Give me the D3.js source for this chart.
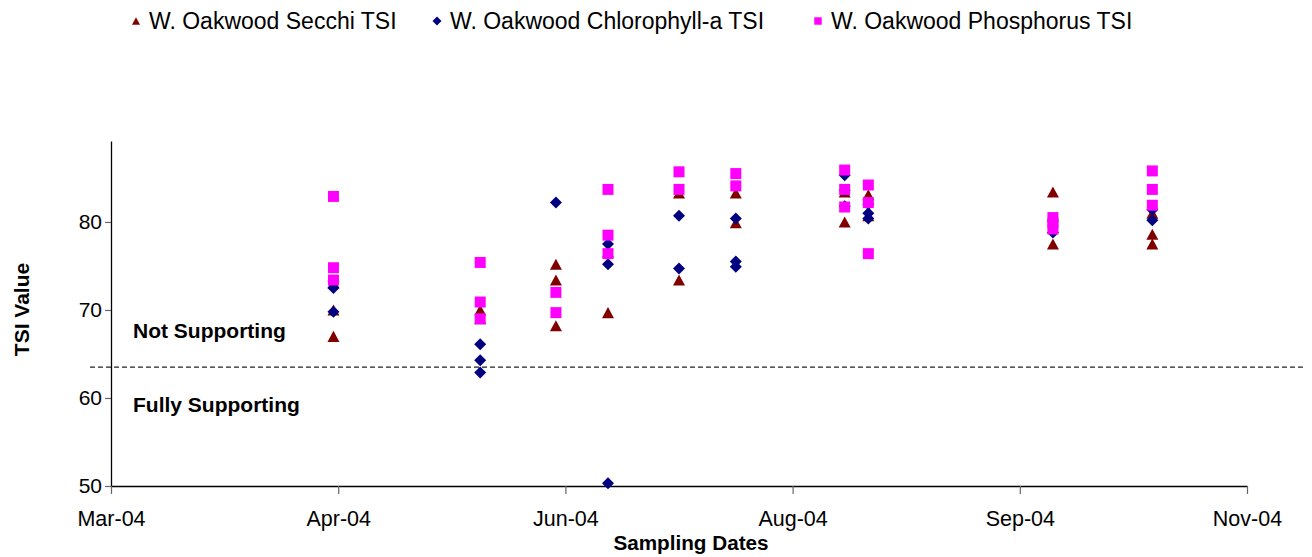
<!DOCTYPE html>
<html><head><meta charset="utf-8">
<script src="https://cdn.jsdelivr.net/npm/d3@7"></script>
<style>
body{margin:0;background:#fff}
svg{display:block}
text{font-family:"Liberation Sans",Arial,sans-serif;fill:#000}
</style>
</head><body>
<svg id="chart" width="1312" height="557"></svg>
<script>
// ---------- data ----------
const sampleDates = ["2004-04-27","2004-05-28","2004-06-13","2004-06-24","2004-07-09",
                     "2004-07-21","2004-08-13","2004-08-18","2004-09-26","2004-10-17"];
const seriesNames = ["W. Oakwood Secchi TSI","W. Oakwood Chlorophyll-a TSI","W. Oakwood Phosphorus TSI"];
const secchiTSI = [
  [73.1, 70.0, 67.0],
  [70.0, 69.0],
  [75.2, 73.4, 68.2],
  [76.6, 69.7],
  [83.3, 73.4],
  [83.3, 79.9],
  [83.4, 80.0],
  [83.1, 80.7],
  [83.4, 77.5],
  [81.0, 78.6, 77.5]
];
const chlorophyllTSI = [
  [73.3, 72.5, 69.8],
  [66.1, 64.3, 62.9],
  [82.2],
  [77.5, 75.2, 50.3],
  [80.7, 74.7],
  [80.4, 75.5, 74.9],
  [85.3, 83.6, 81.8],
  [82.0, 81.0, 80.4],
  [80.1, 78.8],
  [81.4, 80.2]
];
const phosphorusTSI = [
  [82.9, 74.8, 73.4],
  [75.4, 70.9, 69.0],
  [72.0, 69.7],
  [83.7, 78.5, 76.4],
  [85.7, 83.7],
  [85.5, 84.1],
  [85.9, 83.7, 81.7],
  [84.2, 82.2, 76.4],
  [80.5, 79.9, 79.2],
  [85.8, 83.7, 81.9]
];
const xTickDates = ["2004-03-11","2004-04-28","2004-06-15","2004-08-02","2004-09-19","2004-11-06"];
const xTickLabels = ["Mar-04","Apr-04","Jun-04","Aug-04","Sep-04","Nov-04"];
const yTickValues = [50, 60, 70, 80];
const yDomain = [50, 89.2];
const thresholdTSI = 63.5;
const zoneLabels = ["Not Supporting","Fully Supporting"];

// ---------- setup ----------
const parse = d3.utcParse("%Y-%m-%d");
const svg = d3.select("#chart");
const m = {left:111, right:1247, top:141, bottom:486};

const x = d3.scaleUtc()
  .domain([parse(xTickDates[0]), parse(xTickDates[xTickDates.length-1])])
  .range([m.left, m.right]);
const y = d3.scaleLinear().domain(yDomain).range([m.bottom, m.top]);

// custom marker shapes
const triShape = { draw(ctx, size){ const w = Math.sqrt(size), h = w*0.92;
  ctx.moveTo(0,-h/2); ctx.lineTo(w/2,h/2); ctx.lineTo(-w/2,h/2); ctx.closePath(); } };
const diaShape = { draw(ctx, size){ const r = Math.sqrt(size)/2;
  ctx.moveTo(0,-r); ctx.lineTo(r,0); ctx.lineTo(0,r); ctx.lineTo(-r,0); ctx.closePath(); } };
const sqShape = { draw(ctx, size){ const s = Math.sqrt(size)/2;
  ctx.rect(-s,-s,2*s,2*s); } };

const series = [
  {name:seriesNames[0], values:secchiTSI, shape:triShape, size:144, legSize:64, color:"#800000"},
  {name:seriesNames[1], values:chlorophyllTSI, shape:diaShape, size:144, legSize:81, color:"#000080"},
  {name:seriesNames[2], values:phosphorusTSI, shape:sqShape, size:121, legSize:56, color:"#FF00FF"}
];

// ---------- axes ----------
const yAxis = d3.axisLeft(y).tickValues(yTickValues).tickSize(6).tickSizeOuter(0).tickPadding(3);
const gy = svg.append("g").attr("transform",`translate(${m.left},0)`).call(yAxis);
gy.select(".domain").attr("stroke","#000").attr("stroke-width",1.3);
gy.selectAll(".tick line").attr("stroke","#666").attr("stroke-width",1.2);
gy.selectAll(".tick text").attr("font-size",21).attr("font-family",null);

const xAxis = d3.axisBottom(x).tickValues(xTickDates.map(parse))
  .tickFormat((d,i)=>xTickLabels[i]).tickSize(8).tickSizeOuter(0).tickPadding(17);
const gx = svg.append("g").attr("transform",`translate(0,${m.bottom})`).call(xAxis);
gx.select(".domain").attr("stroke","#000").attr("stroke-width",1.3);
gx.selectAll(".tick line").attr("stroke","#666").attr("stroke-width",1.2);
gx.selectAll(".tick text").attr("font-size",21.5).attr("font-family",null);

// axis titles
svg.append("text").attr("transform",`translate(29,${(m.top+m.bottom)/2-4}) rotate(-90)`)
  .attr("text-anchor","middle").attr("font-weight","bold").attr("font-size",21).text("TSI Value");
svg.append("text").attr("x",691).attr("y",550)
  .attr("text-anchor","middle").attr("font-weight","bold").attr("font-size",20.7).text("Sampling Dates");

// threshold dashed line and zone labels
svg.append("line").attr("x1",90).attr("x2",1305)
  .attr("y1",y(thresholdTSI)).attr("y2",y(thresholdTSI))
  .attr("stroke","#222").attr("stroke-width",1.3).attr("stroke-dasharray","5,3");
svg.append("text").attr("x",133).attr("y",y(thresholdTSI)-29)
  .attr("font-weight","bold").attr("font-size",21).text(zoneLabels[0]);
svg.append("text").attr("x",133).attr("y",y(thresholdTSI)+45)
  .attr("font-weight","bold").attr("font-size",21).text(zoneLabels[1]);

// ---------- points ----------
series.forEach(s=>{
  const pts = [];
  s.values.forEach((vals,i)=>vals.forEach(v=>pts.push({d:parse(sampleDates[i]), v})));
  svg.append("g").selectAll("path").data(pts).join("path")
    .attr("transform",p=>`translate(${x(p.d)},${y(p.v)})`)
    .attr("d",d3.symbol().type(s.shape).size(s.size)())
    .attr("fill",s.color);
});

// ---------- legend ----------
const legX = [136, 437, 818];
const lg = svg.append("g");
series.forEach((s,i)=>{
  lg.append("path").attr("transform",`translate(${legX[i]},21)`)
    .attr("d",d3.symbol().type(s.shape).size(s.legSize)()).attr("fill",s.color);
  lg.append("text").attr("x",legX[i]+13).attr("y",29).attr("font-size",23).text(s.name);
});
</script>
</body></html>
